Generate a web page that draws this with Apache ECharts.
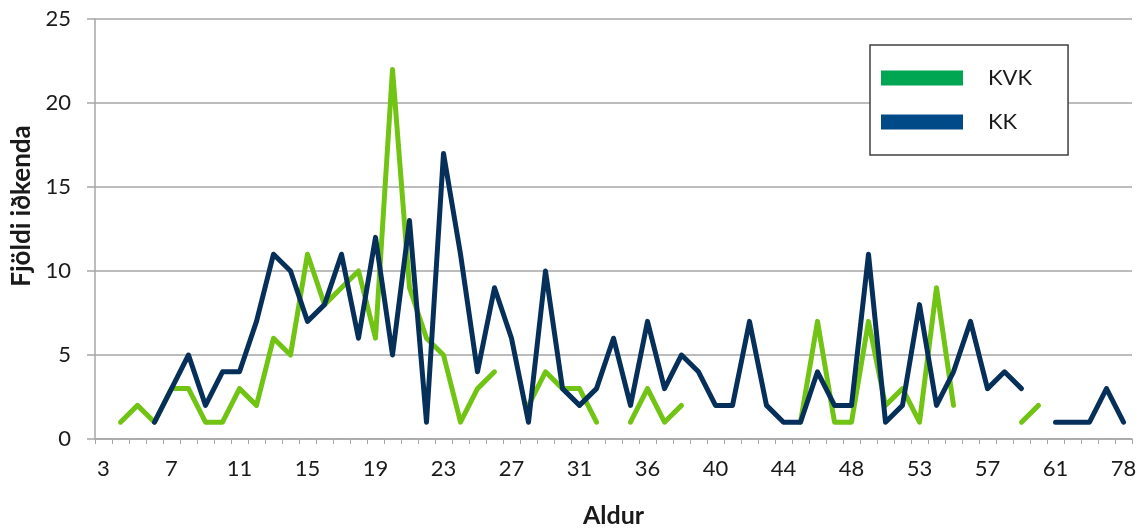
<!DOCTYPE html>
<html><head><meta charset="utf-8">
<script src="https://cdn.jsdelivr.net/npm/echarts@6/dist/echarts.min.js"></script>
<style>html,body{margin:0;padding:0;background:#fff}#c{width:1141px;height:528px}</style>
</head><body><div id="c"></div>
<script>
// Age categories (x axis)
const ages = [3,4,5,6,7,8,9,10,11,12,13,14,15,16,17,18,19,20,21,22,23,24,25,26,27,28,29,30,31,
  32,33,35,
  36,37,38,39,40,41,42,43,44,45,46,47,48,
  49,50,52,
  53,54,55,56,57,58,59,60,61,
  64,67,70,
  78].map(String);
// KVK counts
const kvk = [null,1,2,1,3,3,1,1,3,2,6,5,11,8,9,10,6,22,9,6,5,1,3,4,null,2,4,3,3,
  1,null,1,
  3,1,2,null,null,null,null,null,null,1,7,1,1,
  7,2,3,
  1,9,2,null,null,null,1,2,null,
  null,null,null,
  null];
// KK counts
const kk = [null,null,null,1,3,5,2,4,4,7,11,10,7,8,11,6,12,5,13,1,17,11,4,9,6,1,10,3,2,
  3,6,2,
  7,3,5,4,2,2,7,2,1,1,4,2,2,
  11,1,2,
  8,2,4,7,3,4,3,null,1,
  1,1,3,
  1];
const seriesNames = ['KVK','KK'];
const yTitle = 'Fjöldi iðkenda';
const xTitle = 'Aldur';

const FONT = 'Lato';
const chart = echarts.init(document.getElementById('c'));
chart.setOption({
  animation: false,
  textStyle: {fontFamily: FONT},
  grid: {left: 95, right: 9, top: 19, bottom: 89, containLabel: false, outerBoundsMode: 'none'},
  xAxis: {
    type: 'category', data: ages, boundaryGap: true,
    name: xTitle, nameLocation: 'middle', nameGap: 64,
    nameTextStyle: {fontFamily: FONT, fontWeight: 'bold', fontSize: 25, color: '#1a1a1a'},
    axisLine: {lineStyle: {color: '#a6a6a6', width: 1.5}},
    axisTick: {show: true, interval: 0, length: 5, lineStyle: {color: '#a6a6a6', width: 1}},
    axisLabel: {interval: 3, margin: 19, fontFamily: FONT, fontSize: 22, color: '#1a1a1a'}
  },
  yAxis: {
    type: 'value', min: 0, max: 25, interval: 5,
    axisLine: {show: true, lineStyle: {color: '#a6a6a6', width: 1.5}},
    axisTick: {show: true, length: 8, lineStyle: {color: '#a6a6a6', width: 1.5}},
    axisLabel: {margin: 24, fontFamily: FONT, fontSize: 22, color: '#1a1a1a'},
    splitLine: {lineStyle: {color: '#a6a6a6', width: 1.5}}
  },
  legend: {
    orient: 'vertical', left: 870, top: 45, icon: 'rect',
    itemWidth: 82, itemHeight: 15, itemGap: 22,
    padding: [22, 36, 22, 11],
    borderColor: '#404040', borderWidth: 1.5, backgroundColor: '#fff',
    selectedMode: false,
    textStyle: {fontFamily: FONT, fontSize: 22, lineHeight: 22, color: '#1a1a1a', padding: [0, 0, 0, 20]},
    data: [
      {name: seriesNames[0], itemStyle: {color: '#00a651', borderWidth: 0}},
      {name: seriesNames[1], itemStyle: {color: '#004a87', borderWidth: 0}}
    ]
  },
  graphic: [{
    type: 'text', x: 22, y: 206, rotation: Math.PI / 2,
    style: {text: yTitle, font: 'bold 26px Lato', fill: '#1a1a1a', align: 'center', verticalAlign: 'middle'}
  }],
  series: [
    {name: seriesNames[0], type: 'line', data: kvk, symbol: 'none', connectNulls: false,
     itemStyle: {color: '#00a651'}, lineStyle: {color: '#72c414', width: 5, cap: 'round', join: 'round'},
     emphasis: {disabled: true}, z: 2},
    {name: seriesNames[1], type: 'line', data: kk, symbol: 'none', connectNulls: false,
     itemStyle: {color: '#004a87'}, lineStyle: {color: '#06305a', width: 5, cap: 'round', join: 'round'},
     emphasis: {disabled: true}, z: 3}
  ]
});
</script>
</body></html>
